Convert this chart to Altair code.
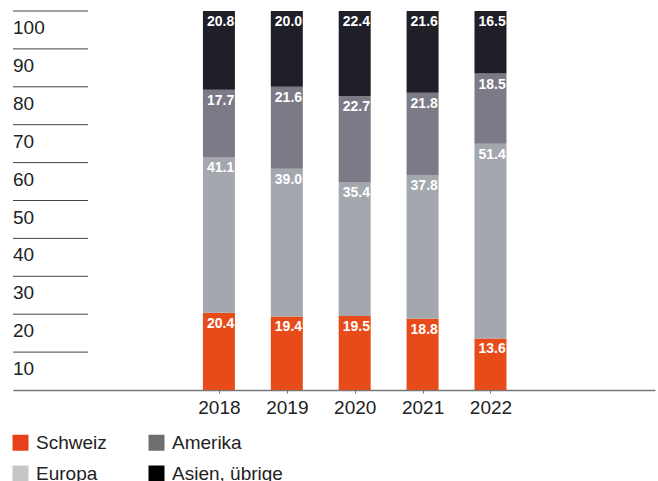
import altair as alt
import pandas as pd

# Sales by region, share in percent
years = [2018, 2019, 2020, 2021, 2022]
regions = ["Schweiz", "Europa", "Amerika", "Asien, übrige"]
schweiz = [20.4, 19.4, 19.5, 18.8, 13.6]
europa = [41.1, 39.0, 35.4, 37.8, 51.4]
amerika = [17.7, 21.6, 22.7, 21.8, 18.5]
asien = [20.8, 20.0, 22.4, 21.6, 16.5]

bar_colors = ["#E84B1A", "#A5A7AF", "#7B7A86", "#1E1F27"]
# legend entries fill column by column: Schweiz/Europa left, Amerika/Asien right
legend_order = ["Schweiz", "Europa", "Amerika", "Asien, übrige"]
legend_colors = ["#E8401C", "#C6C6C6", "#6E6E6E", "#000000"]

grid_values = [10, 20, 30, 40, 50, 60, 70, 80, 90, 100]

FONT = "Liberation Sans"
TEXT = "#222222"

# Long table with explicit stack boundaries
rows = []
series = [schweiz, europa, amerika, asien]
for i, year in enumerate(years):
    start = 0.0
    for region, vals, col in zip(regions, series, bar_colors):
        v = vals[i]
        rows.append({"year": year, "region": region, "value": v,
                     "start": start, "end": start + v, "bar_color": col})
        start += v
df = pd.DataFrame(rows)
grid_df = pd.DataFrame({"v": grid_values, "lab": [str(g) for g in grid_values]})

yscale = alt.Scale(domain=[0, 100], nice=False, zero=True)
xscale = alt.Scale(domain=[2015.04, 2024.35], nice=False, zero=False)

grid = alt.Chart(grid_df).mark_rule(color="#444444", strokeWidth=1).encode(
    y=alt.Y("v:Q", scale=yscale, axis=None),
    x=alt.value(0),
    x2=alt.value(75),
)

grid_labels = alt.Chart(grid_df).mark_text(
    align="left", baseline="alphabetic", dy=23, fontSize=19, font=FONT, color=TEXT
).encode(
    y=alt.Y("v:Q", scale=yscale, axis=None),
    x=alt.value(0),
    text="lab:N",
)

x_enc = alt.X(
    "year:Q",
    scale=xscale,
    axis=alt.Axis(
        values=years, format="d", title=None, grid=False,
        labelFontSize=19, labelFont=FONT, labelColor=TEXT, labelPadding=5,
        domainColor="#777777", domainWidth=1.5,
        tickColor="#777777", tickSize=3, tickWidth=1,
    ),
)

bars = alt.Chart(df).mark_bar(width=32).encode(
    x=x_enc,
    y=alt.Y("start:Q", scale=yscale, axis=None),
    y2="end:Q",
    fill=alt.Fill("bar_color:N", scale=None),
)

bar_labels = alt.Chart(df).mark_text(
    align="left", baseline="top", dx=-12, dy=4,
    fontSize=14, fontWeight="bold", font=FONT, color="white",
).encode(
    x=alt.X("year:Q", scale=xscale),
    y=alt.Y("end:Q", scale=yscale, axis=None),
    text=alt.Text("value:Q", format=".1f"),
)

legend_layer = alt.Chart(df).mark_square(opacity=0, size=1).encode(
    x=alt.X("year:Q", scale=xscale),
    y=alt.Y("end:Q", scale=yscale, axis=None),
    color=alt.Color(
        "region:N",
        scale=alt.Scale(domain=legend_order, range=legend_colors),
        legend=alt.Legend(
            title=None, orient="none", legendX=-2, legendY=422,
            columns=2, columnPadding=40, rowPadding=11,
            symbolType="square", symbolSize=256, symbolStrokeWidth=0,
            symbolOpacity=1, labelFontSize=19, labelFont=FONT,
            labelColor=TEXT, labelOffset=6,
        ),
    ),
)

chart = alt.layer(grid, grid_labels, bars, bar_labels, legend_layer).properties(
    width=642,
    height=379,
    padding={"left": 13, "top": 11, "right": 3, "bottom": 91},
    autosize=alt.AutoSizeParams(type="none"),
).configure_view(stroke=None)

chart.save("out.html", embed_options={"renderer": "svg", "actions": False})
